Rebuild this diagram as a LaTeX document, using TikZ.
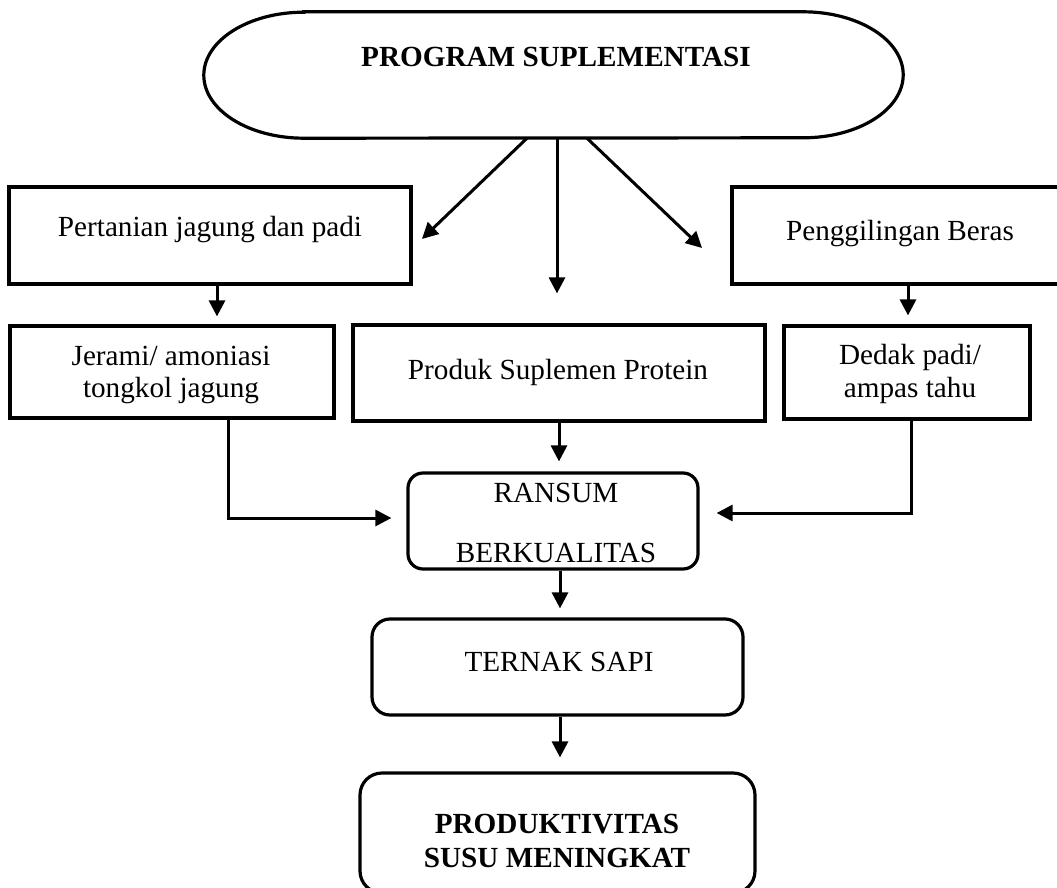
\documentclass[tikz,border=0pt]{standalone}
\usepackage{fontspec}
\setmainfont{Liberation Serif}
\usetikzlibrary{arrows.meta}
\begin{document}
\begin{tikzpicture}[x=1pt,y=-1pt,
  box/.style={draw, line width=3.2pt, inner sep=0pt, rectangle},
  rbox/.style={box, rounded corners=16pt},
  txt/.style={inner sep=0pt, anchor=base, font=\fontsize{29.2}{34}\selectfont},
  btxt/.style={inner sep=0pt, anchor=base, font=\fontsize{29.2}{34}\selectfont\bfseries},
  conn/.style={line width=3pt, -{Triangle[length=16pt,width=16pt]}}]
\useasboundingbox (0,0) rectangle (1057,888);

% top stadium shape
\node (prog) [minimum width=699pt, minimum height=126pt, inner sep=0pt] at (553.5,75) {};
\draw[line width=3.2pt] ([xshift=100pt]prog.north west) -- ([xshift=-100pt]prog.north east)
  arc[start angle=90,end angle=-90,x radius=100pt,y radius=63pt]
  -- ([xshift=100pt]prog.south west)
  arc[start angle=270,end angle=90,x radius=100pt,y radius=63pt] -- cycle;
\node[btxt] (progt) at (556,67) {PROGRAM SUPLEMENTASI};

% boxes
\node[box, minimum width=402pt, minimum height=97pt] (pert) at (210,235.5) {};
\node[box, minimum width=336pt, minimum height=97pt] (peng) at (900,235.5) {};
\node[box, minimum width=324pt, minimum height=92pt] (jer) at (172,372) {};
\node[box, minimum width=412pt, minimum height=96pt] (prod) at (559,373) {};
\node[box, minimum width=246pt, minimum height=93pt] (ded) at (907,372.5) {};
\node[rbox, rounded corners=15pt, minimum width=290pt, minimum height=96pt] (rans) at (553,521) {};
\node[rbox, rounded corners=18pt, minimum width=371pt, minimum height=96pt] (tern) at (557.5,667) {};
\node[rbox, rounded corners=22pt, minimum width=395pt, minimum height=120pt] (prodk) at (557.5,833) {};

% texts
\node[txt] (pertt) at (210,236) {Pertanian jagung dan padi};
\node[txt] (pengt) at (900,240) {Penggilingan Beras};
\node[txt] (jert1) at (171,365) {Jerami/ amoniasi};
\node[txt] (jert2) at (171,397) {tongkol jagung};
\node[txt] (prodt) at (558,379) {Produk Suplemen Protein};
\node[txt] (dedt1) at (910,364) {Dedak padi/};
\node[txt] (dedt2) at (910,397) {ampas tahu};
\node[txt] (ranst1) at (556,502) {RANSUM};
\node[txt] (ranst2) at (556,562) {BERKUALITAS};
\node[txt] (ternt) at (559,671) {TERNAK SAPI};
\node[btxt] (prodkt1) at (557,833) {PRODUKTIVITAS};
\node[btxt] (prodkt2) at (557,867) {SUSU MENINGKAT};

% connectors from the top shape
\coordinate (tipL) at (422,239);
\coordinate (tipR) at (702,248);
\draw[conn] ([xshift=-26.5pt]prog.south) -- (tipL);
\draw[conn] ([xshift=33.5pt]prog.south) -- (tipR);
\draw[conn, shorten >=30pt] ([xshift=3.5pt]prog.south) -- ([xshift=3.5pt]prog.south |- prod.north);

% vertical connectors
\draw[conn, shorten >=8pt] ([xshift=7pt]pert.south) -- ([xshift=7pt]pert.south |- jer.north);
\draw[conn, shorten >=9pt] ([xshift=8pt]peng.south) -- ([xshift=8pt]peng.south |- ded.north);
\draw[conn, shorten >=10pt] (prod.south) -- (prod.south |- rans.north);
\draw[conn, shorten >=9pt] ([xshift=7pt]rans.south) -- ([xshift=7pt]rans.south |- tern.north);
\draw[conn, shorten >=14pt] ([xshift=2.5pt]tern.south) -- ([xshift=2.5pt]tern.south |- prodk.north);

% elbow connectors
\draw[conn, shorten >=15pt] ([xshift=56pt]jer.south) |- ([yshift=3pt]rans.west);
\draw[conn, shorten >=17pt] ([xshift=4pt]ded.south) |- ([yshift=8pt]rans.east);
\end{tikzpicture}
\end{document}
